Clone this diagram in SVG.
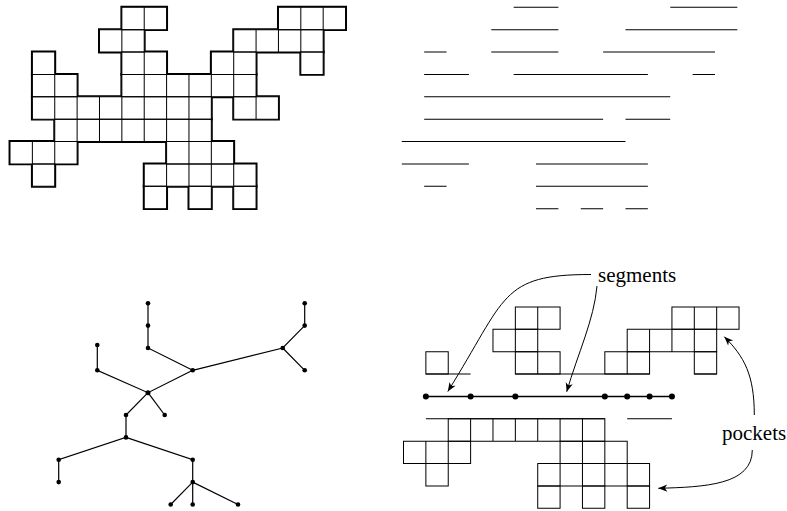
<svg xmlns="http://www.w3.org/2000/svg" xmlns:xlink="http://www.w3.org/1999/xlink" width="787" height="511" viewBox="0 0 787 511">
<style>
.thick{fill:none;stroke:#000;stroke-width:0.13}
.white{fill:#fff;stroke:none}
.thin{fill:none;stroke:#000;stroke-width:0.045}
.seg{stroke:#000;stroke-width:0.045;fill:none}
.edge{stroke:#000;stroke-width:1.2;fill:none}
.dot{fill:#000}
.arrow{fill:none;stroke:#000;stroke-width:1;marker-end:url(#stealth)}
.label{font-family:'Liberation Serif','Times New Roman','DejaVu Serif',serif;font-size:21px;fill:#000}
</style>
<defs>
<marker id="stealth" viewBox="-10 -5 11 10" refX="0" refY="0" markerWidth="11" markerHeight="10" markerUnits="userSpaceOnUse" orient="auto">
<path d="M0,0 L-9,-3.6 L-6.5,0 L-9,3.6 Z" fill="#000"/>
</marker>
<g id="cellsTL">
<path d="M5 0h1v1h-1zM6 0h1v1h-1zM12 0h1v1h-1zM13 0h1v1h-1zM14 0h1v1h-1z"/>
<path d="M4 1h1v1h-1zM5 1h1v1h-1zM10 1h1v1h-1zM11 1h1v1h-1zM12 1h1v1h-1zM13 1h1v1h-1z"/>
<path d="M1 2h1v1h-1zM5 2h1v1h-1zM6 2h1v1h-1zM9 2h1v1h-1zM10 2h1v1h-1zM13 2h1v1h-1z"/>
<path d="M1 3h1v1h-1zM2 3h1v1h-1zM5 3h1v1h-1zM6 3h1v1h-1zM7 3h1v1h-1zM8 3h1v1h-1zM9 3h1v1h-1zM10 3h1v1h-1z"/>
<path d="M1 4h1v1h-1zM2 4h1v1h-1zM3 4h1v1h-1zM4 4h1v1h-1zM5 4h1v1h-1zM6 4h1v1h-1zM7 4h1v1h-1zM8 4h1v1h-1zM10 4h1v1h-1zM11 4h1v1h-1z"/>
<path d="M2 5h1v1h-1zM3 5h1v1h-1zM4 5h1v1h-1zM5 5h1v1h-1zM6 5h1v1h-1zM7 5h1v1h-1zM8 5h1v1h-1z"/>
<path d="M0 6h1v1h-1zM1 6h1v1h-1zM2 6h1v1h-1zM7 6h1v1h-1zM8 6h1v1h-1zM9 6h1v1h-1z"/>
<path d="M1 7h1v1h-1zM6 7h1v1h-1zM7 7h1v1h-1zM8 7h1v1h-1zM9 7h1v1h-1zM10 7h1v1h-1z"/>
<path d="M6 8h1v1h-1zM8 8h1v1h-1zM10 8h1v1h-1z"/>
</g>
</defs>

<!-- top-left polyomino -->
<g id="polyomino" transform="translate(10 7.3) scale(22.37)">
<use xlink:href="#cellsTL" class="thick"/>
<use xlink:href="#cellsTL" class="white"/>
<use xlink:href="#cellsTL" class="thin"/>
</g>

<!-- top-right horizontal segments -->
<g id="segments-panel" class="seg" transform="translate(401.8 7.3) scale(22.37)">
<path d="M5 0H7M12 0H15"/>
<path d="M4 1H7M10 1H15"/>
<path d="M1 2H2M4 2H7M9 2H14"/>
<path d="M1 3H3M5 3H11M13 3H14"/>
<path d="M1 4H12"/>
<path d="M1 5H9M10 5H12"/>
<path d="M0 6H10"/>
<path d="M0 7H3M6 7H11"/>
<path d="M1 8H2M6 8H11"/>
<path d="M6 9H7M8 9H9M10 9H11"/>
</g>

<!-- bottom-left tree -->
<g id="connectors">
<path class="edge" d="M148 303.3L148 325.6L148 348L192.7 370.3"/>
<path class="edge" d="M97.3 345L97.3 370.3L148 392.7L192.7 370.3"/>
<path class="edge" d="M148 392.7L126 415L126 437.4L58.7 459.8L58.7 482.1"/>
<path class="edge" d="M148 392.7L164.7 415"/>
<path class="edge" d="M126 437.4L192.7 459.8L192.7 482.1L170.7 504.5"/>
<path class="edge" d="M192.7 482.1L192.7 504.5M192.7 482.1L238 504.5"/>
<path class="edge" d="M192.7 370.3L282.7 348L304.7 325.6L304.7 303.3M282.7 348L304.7 370.3"/>
</g>
<g id="nA"><circle class="dot" cx="148" cy="303.3" r="2.3"/></g>
<g id="nB"><circle class="dot" cx="148" cy="325.6" r="2.3"/></g>
<g id="nC"><circle class="dot" cx="148" cy="348" r="2.3"/></g>
<g id="nD"><circle class="dot" cx="97.3" cy="345" r="2.3"/></g>
<g id="nE"><circle class="dot" cx="97.3" cy="370.3" r="2.3"/></g>
<g id="nF"><circle class="dot" cx="148" cy="392.7" r="2.5"/></g>
<g id="nG"><circle class="dot" cx="126" cy="415" r="2.3"/></g>
<g id="nH"><circle class="dot" cx="164.7" cy="415" r="2.3"/></g>
<g id="nI"><circle class="dot" cx="126" cy="437.4" r="2.3"/></g>
<g id="nJ"><circle class="dot" cx="58.7" cy="459.8" r="2.3"/></g>
<g id="nK"><circle class="dot" cx="58.7" cy="482.1" r="2.3"/></g>
<g id="nL"><circle class="dot" cx="170.7" cy="504.5" r="2.3"/></g>
<g id="nM"><circle class="dot" cx="192.7" cy="370.3" r="2.3"/></g>
<g id="nN"><circle class="dot" cx="282.7" cy="348" r="2.3"/></g>
<g id="nO"><circle class="dot" cx="304.7" cy="303.3" r="2.3"/></g>
<g id="nP"><circle class="dot" cx="304.7" cy="325.6" r="2.3"/></g>
<g id="nQ"><circle class="dot" cx="304.7" cy="370.3" r="2.3"/></g>
<g id="nR"><circle class="dot" cx="192.7" cy="459.8" r="2.3"/></g>
<g id="nS"><circle class="dot" cx="192.7" cy="482.1" r="2.3"/></g>
<g id="nT"><circle class="dot" cx="192.7" cy="504.5" r="2.3"/></g>
<g id="nU"><circle class="dot" cx="238" cy="504.5" r="2.3"/></g>

<!-- bottom-right decomposition -->
<g id="decomposition" transform="translate(403.5 307) scale(22.37)">
<g class="thin">
<path d="M5 0h1v1h-1zM6 0h1v1h-1zM12 0h1v1h-1zM13 0h1v1h-1zM14 0h1v1h-1z"/>
<path d="M4 1h1v1h-1zM5 1h1v1h-1zM10 1h1v1h-1zM11 1h1v1h-1zM12 1h1v1h-1zM13 1h1v1h-1z"/>
<path d="M1 2h1v1h-1zM5 2h1v1h-1zM6 2h1v1h-1zM9 2h1v1h-1zM10 2h1v1h-1zM13 2h1v1h-1z"/>
<path d="M2 5h1v1h-1zM3 5h1v1h-1zM4 5h1v1h-1zM5 5h1v1h-1zM6 5h1v1h-1zM7 5h1v1h-1zM8 5h1v1h-1z"/>
<path d="M0 6h1v1h-1zM1 6h1v1h-1zM2 6h1v1h-1zM7 6h1v1h-1zM8 6h1v1h-1zM9 6h1v1h-1z"/>
<path d="M1 7h1v1h-1zM6 7h1v1h-1zM7 7h1v1h-1zM8 7h1v1h-1zM9 7h1v1h-1zM10 7h1v1h-1z"/>
<path d="M6 8h1v1h-1zM8 8h1v1h-1zM10 8h1v1h-1z"/>
</g>
<path class="seg" d="M1 3H3M5 3H11M13 3H14M1 5H9M10 5H12"/>
<path d="M1 4H12" stroke="#000" stroke-width="0.072" fill="none"/>
<g fill="#000">
<circle cx="1" cy="4" r="0.135"/><circle cx="3" cy="4" r="0.135"/><circle cx="5" cy="4" r="0.135"/>
<circle cx="9" cy="4" r="0.135"/><circle cx="10" cy="4" r="0.135"/><circle cx="11" cy="4" r="0.135"/><circle cx="12" cy="4" r="0.135"/>
</g>
</g>

<g id="label-segments"><text class="label" x="598" y="282" font-family="Liberation Serif, serif">segments</text></g>
<g id="label-pockets"><text class="label" x="722" y="439.5" font-family="Liberation Serif, serif">pockets</text></g>
<g id="arrows">
<path class="arrow" d="M591 274.5C500 274.5 506.9 297 447.8 391.5"/>
<path class="arrow" d="M597 286C594 320 578 353 566.7 391.8"/>
<path class="arrow" d="M754.3 415C754.3 375 744.3 356.7 724.3 336.7"/>
<path class="arrow" d="M752.3 450C752.3 485 705 487 658.3 488.3"/>
</g>
</svg>
